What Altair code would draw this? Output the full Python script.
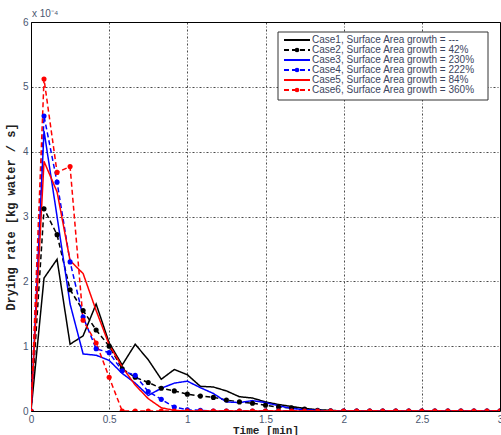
import altair as alt
import pandas as pd

# Sampling times: one reading every 5 s over 3 minutes
TIME_S = list(range(0, 181, 5))

CASES = [
    "Case1, Surface Area growth = ---",
    "Case2, Surface Area growth = 42%",
    "Case3, Surface Area growth = 230%",
    "Case4, Surface Area growth = 222%",
    "Case5, Surface Area growth = 84%",
    "Case6, Surface Area growth = 360%",
]
COLORS = ["#000000", "#000000", "#0000ff", "#0000ff", "#ff0000", "#ff0000"]
DASHES = [[1, 0], [5, 3], [1, 0], [5, 3], [1, 0], [5, 3]]
MARKED = [False, True, False, True, False, True]

# Drying rate, in units of 1e-4 kg water / s
CASE1 = [0.0, 2.05, 2.34, 1.03, 1.16, 1.65, 1.05, 0.71, 1.03, 0.79, 0.49, 0.64,
         0.56, 0.38, 0.37, 0.31, 0.22, 0.20, 0.14, 0.10, 0.07, 0.04, 0.02, 0.01] + [0.0] * 13
CASE2 = [0.0, 3.12, 2.72, 1.87, 1.55, 1.25, 1.00, 0.65, 0.52, 0.44, 0.35, 0.31,
         0.26, 0.23, 0.21, 0.17, 0.14, 0.12, 0.09, 0.06, 0.05, 0.03, 0.01, 0.005] + [0.0] * 13
CASE3 = [0.0, 4.32, 3.00, 1.65, 0.88, 0.86, 0.78, 0.58, 0.43, 0.24, 0.35, 0.43,
         0.46, 0.36, 0.27, 0.14, 0.13, 0.16, 0.13, 0.08, 0.04, 0.02, 0.01, 0.0] + [0.0] * 13
CASE4 = [0.0, 4.55, 3.53, 2.30, 1.45, 0.96, 0.90, 0.62, 0.55, 0.30, 0.18, 0.06,
         0.02, 0.01] + [0.0] * 23
CASE5 = [0.0, 3.85, 3.38, 2.32, 2.12, 1.55, 1.02, 0.68, 0.40, 0.19, 0.05, 0.01] + [0.0] * 25
CASE6 = [0.0, 5.12, 3.68, 3.77, 1.40, 1.05, 0.52] + [0.0] * 30

SERIES = [CASE1, CASE2, CASE3, CASE4, CASE5, CASE6]

rows = []
for name, values, marked in zip(CASES, SERIES, MARKED):
    for s, v in zip(TIME_S, values):
        rows.append({"case": name, "time": s / 60.0, "rate": v, "marked": marked})
df = pd.DataFrame(rows)
legend_df = pd.DataFrame({"case": CASES, "marked": MARKED})

LABEL_COLOR = "#4a5670"
TITLE_FONT = "Liberation Mono"
LABEL_FONT = "Liberation Sans"

stroke_scale = alt.Scale(domain=CASES, range=COLORS)
dash_scale = alt.Scale(domain=CASES, range=DASHES)

x_enc = alt.X(
    "time:Q",
    scale=alt.Scale(domain=[0, 3], nice=False),
    axis=alt.Axis(
        values=[0, 0.5, 1, 1.5, 2, 2.5, 3],
        format="~g",
        title="Time [min]",
        titleFont=TITLE_FONT,
        titleFontSize=11,
        titleFontWeight="bold",
        titleColor="#222222",
        titlePadding=0,
        labelFont=LABEL_FONT,
        labelFontSize=10,
        labelColor=LABEL_COLOR,
        labelPadding=3,
        ticks=False,
        domain=False,
        labelFlush=False,
    ),
)
y_enc = alt.Y(
    "rate:Q",
    scale=alt.Scale(domain=[0, 6], nice=False),
    axis=alt.Axis(
        values=[0, 1, 2, 3, 4, 5, 6],
        format="~g",
        title="Drying rate [kg water / s]",
        titleFont=TITLE_FONT,
        titleFontSize=12,
        titleFontWeight="bold",
        titleColor="#222222",
        titlePadding=5,
        labelFont=LABEL_FONT,
        labelFontSize=10,
        labelColor=LABEL_COLOR,
        labelPadding=3,
        ticks=False,
        domain=False,
        labelFlush=False,
    ),
)

base = alt.Chart(df)

lines = base.mark_line(strokeWidth=1.5, clip=True).encode(
    x=x_enc,
    y=y_enc,
    stroke=alt.Stroke("case:N", scale=stroke_scale, legend=None),
    strokeDash=alt.StrokeDash("case:N", scale=dash_scale, legend=None),
    order=alt.Order("time:Q"),
)

dots = base.transform_filter("datum.marked").mark_circle(size=26, opacity=1, clip=True).encode(
    x="time:Q",
    y="rate:Q",
    fill=alt.Fill("case:N", scale=stroke_scale, legend=None),
)

exponent = alt.Chart(pd.DataFrame({"label": ["x 10⁻⁴"]})).mark_text(
    align="left", baseline="alphabetic", font=LABEL_FONT, fontSize=10, color=LABEL_COLOR
).encode(text="label:N", x=alt.value(1), y=alt.value(-5))

plot = alt.layer(lines, dots, exponent)

# Legend box in the upper right of the plot: one row per case
row_y = alt.Y(
    "case:N",
    scale=alt.Scale(type="point", domain=CASES, range=[18, 68], padding=0),
    axis=None,
)

legend_box = alt.Chart(pd.DataFrame({"box": [0]})).mark_rect(
    fill="white", stroke="#333333", strokeWidth=1
).encode(x=alt.value(247), x2=alt.value(457), y=alt.value(10), y2=alt.value(78))

legend_lines = alt.Chart(legend_df).mark_rule(strokeWidth=2).encode(
    x=alt.value(253),
    x2=alt.value(279),
    y=row_y,
    stroke=alt.Stroke("case:N", scale=stroke_scale, legend=None),
    strokeDash=alt.StrokeDash("case:N", scale=dash_scale, legend=None),
)

legend_dots = alt.Chart(legend_df).transform_filter("datum.marked").mark_circle(
    size=22, opacity=1
).encode(
    x=alt.value(266),
    y=row_y,
    fill=alt.Fill("case:N", scale=stroke_scale, legend=None),
)

legend_text = alt.Chart(legend_df).mark_text(
    align="left", baseline="middle", font=LABEL_FONT, fontSize=10, color="#3b4560"
).encode(x=alt.value(281), y=row_y, text="case:N")

legend_layer = alt.layer(legend_box, legend_lines, legend_dots, legend_text)

chart = (
    alt.layer(plot, legend_layer)
    .resolve_scale(y="independent")
    .properties(
        width=469,
        height=389,
        padding={"left": 31, "top": 22, "right": 1, "bottom": 24},
        autosize=alt.AutoSizeParams(type="none"),
        background="white",
    )
    .configure_view(stroke="#000000", strokeWidth=1)
    .configure_axis(gridColor="#000000", gridDash=[2, 2, 1, 2], gridWidth=0.8, gridOpacity=0.9)
)

chart.save("out.html", embed_options={"renderer": "svg", "actions": False})
